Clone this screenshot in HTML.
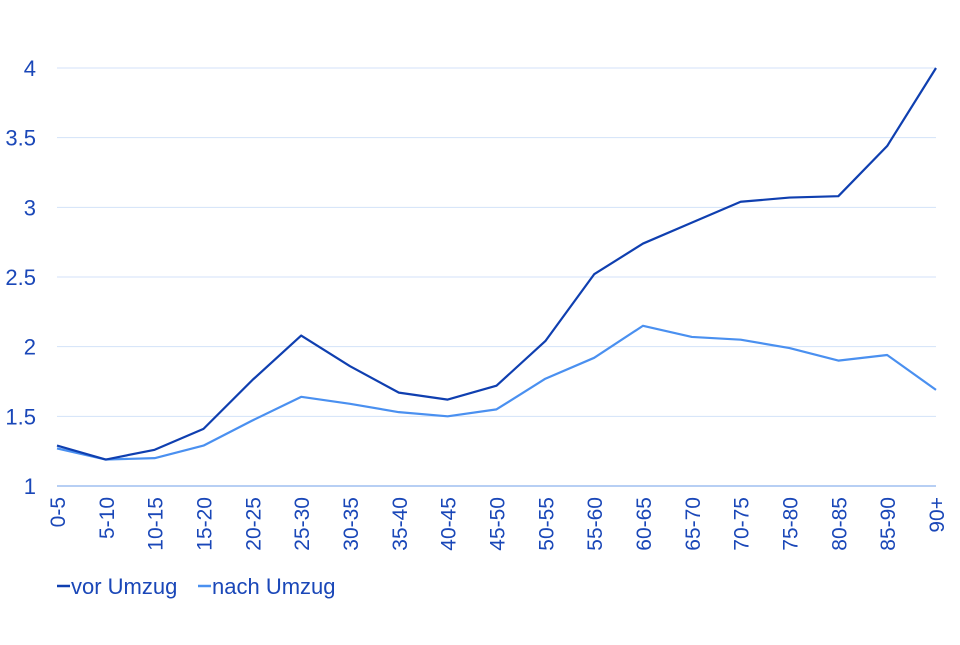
<!DOCTYPE html>
<html><head><meta charset="utf-8"><style>
body{margin:0;background:#fff;}
svg text{font-family:"Liberation Sans",sans-serif;fill:#1a47b8;}
</style></head><body>
<svg id="c" width="960" height="640"></svg>
<script>
const categories=["0-5","5-10","10-15","15-20","20-25","25-30","30-35","35-40","40-45","45-50","50-55","55-60","60-65","65-70","70-75","75-80","80-85","85-90","90+"];
const vorValues=[1.29,1.19,1.26,1.41,1.76,2.08,1.86,1.67,1.62,1.72,2.04,2.52,2.74,2.89,3.04,3.07,3.08,3.44,4.0];
const nachValues=[1.27,1.19,1.20,1.29,1.47,1.64,1.59,1.53,1.50,1.55,1.77,1.92,2.15,2.07,2.05,1.99,1.90,1.94,1.69];
const yTicks=[1,1.5,2,2.5,3,3.5,4];
const yTickLabels=["1","1.5","2","2.5","3","3.5","4"];
const ns="http://www.w3.org/2000/svg";
const svg=document.getElementById("c");
const x0=57,x1=936,yBase=486,yTop=68;
const xs=i=>x0+i*(x1-x0)/(categories.length-1);
const ys=v=>yBase-(v-1)/(4-1)*(yBase-yTop);
function mk(t,a){const e=document.createElementNS(ns,t);for(const k in a)e.setAttribute(k,a[k]);svg.appendChild(e);return e;}
yTicks.forEach((v,i)=>{
 const l=mk("line",{x1:x0,x2:x1,y1:ys(v),y2:ys(v),stroke:i==0?"#6f9fe8":"#d3e2f8","stroke-width":1});
 
 
 const t=mk("text",{x:36,y:ys(v)+8,"text-anchor":"end","font-size":22});
 t.textContent=yTickLabels[i];
 
 
});
categories.forEach((c,i)=>{
 const t=mk("text",{transform:`translate(${xs(i)+8},497) rotate(-90)`,"text-anchor":"end","font-size":21});
 t.textContent=c;
 
 
});
function line(vals,color,name){
 const p=mk("polyline",{points:vals.map((v,i)=>xs(i)+","+ys(v)).join(" "),fill:"none",stroke:color,"stroke-width":2.2,"stroke-linejoin":"round"});
 
 
}
line(nachValues,"#4a90f0","series-nach-umzug");
line(vorValues,"#0f3fb0","series-vor-umzug");
[[57,"#0f3fb0","vor Umzug","legend-vor-umzug"],[198,"#4a90f0","nach Umzug","legend-nach-umzug"]].forEach(d=>{
 const g=mk("g",{});
 
 
 const l=document.createElementNS(ns,"line");
 l.setAttribute("x1",d[0]);l.setAttribute("x2",d[0]+13);l.setAttribute("y1",586);l.setAttribute("y2",586);l.setAttribute("stroke",d[1]);l.setAttribute("stroke-width",2.5);
 g.appendChild(l);
 const t=document.createElementNS(ns,"text");
 t.setAttribute("x",d[0]+14);t.setAttribute("y",594);t.setAttribute("font-size",22);t.textContent=d[2];
 g.appendChild(t);
});
</script>
</body></html>
